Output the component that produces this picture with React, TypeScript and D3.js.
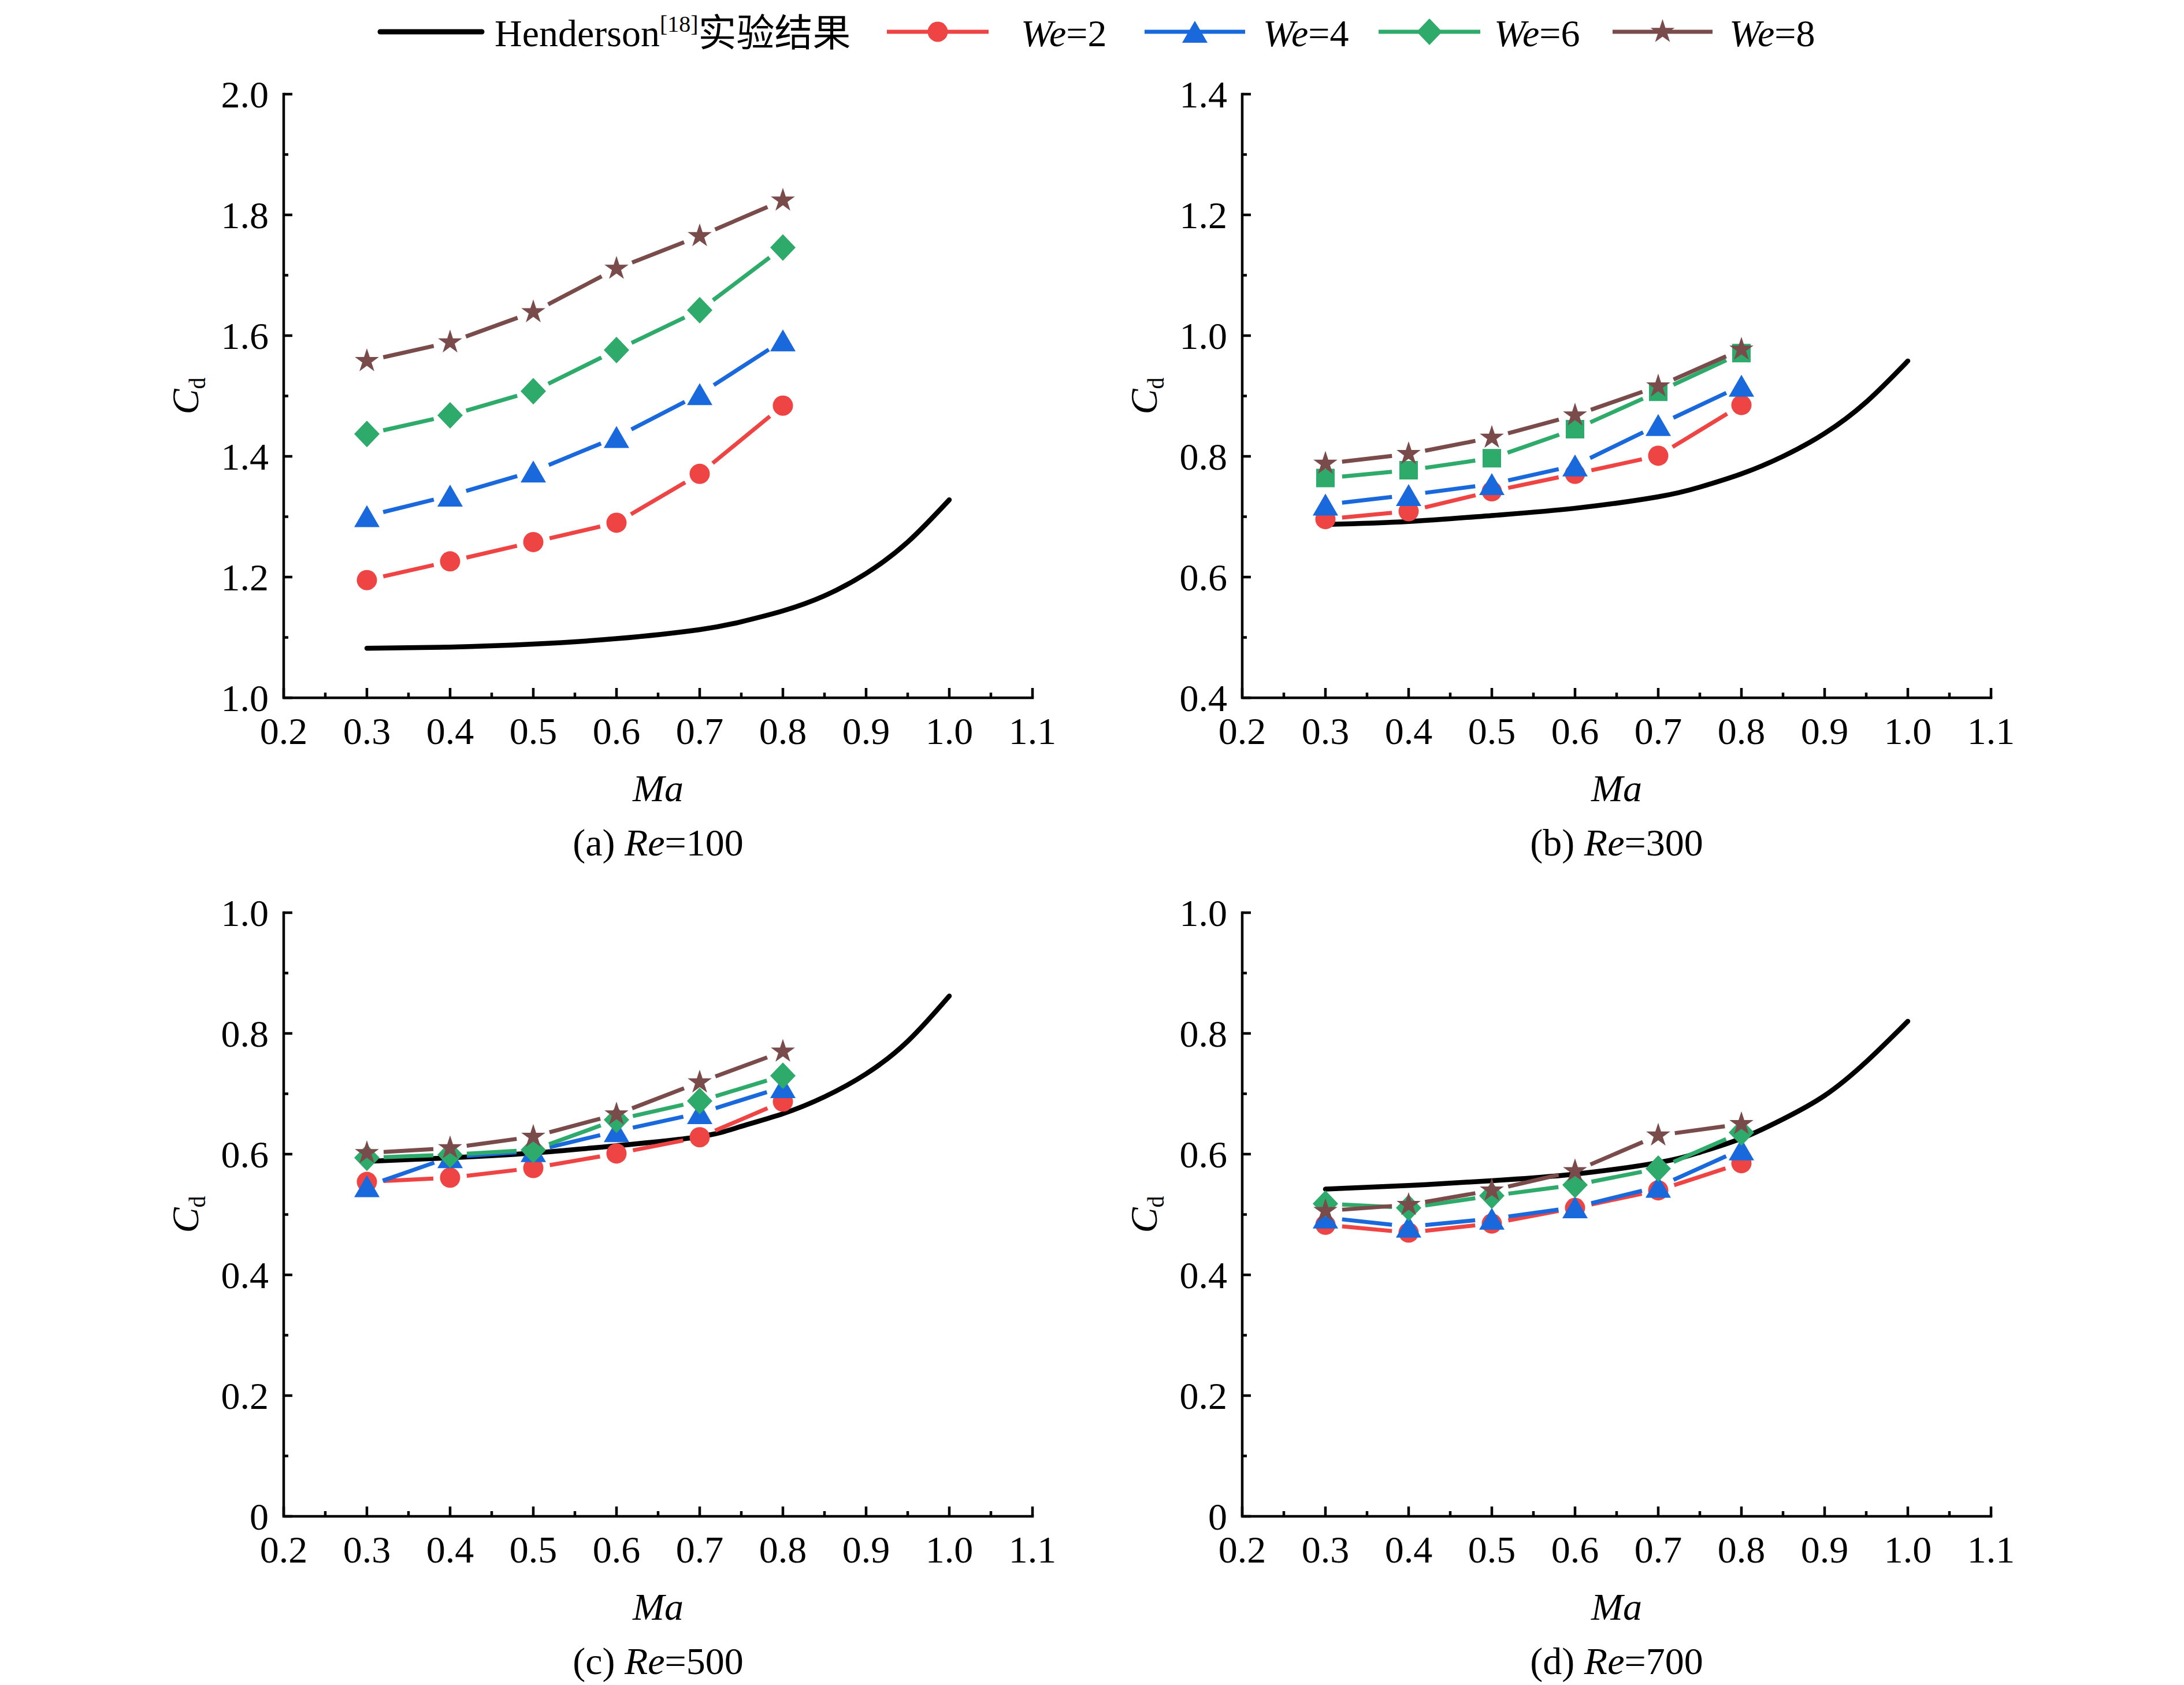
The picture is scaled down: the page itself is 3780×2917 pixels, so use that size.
import * as d3 from "d3";

// Ma values shared by all simulated series
const MA = [0.3, 0.4, 0.5, 0.6, 0.7, 0.8];
// Ma values of the Henderson curve
const HEND_MA = [0.3, 0.4, 0.5, 0.6, 0.7, 0.75, 0.8, 0.85, 0.9, 0.95, 1.0];

// (a) Re=100
const hendA = [1.082, 1.084, 1.089, 1.098, 1.113, 1.126, 1.144, 1.169, 1.206, 1.258, 1.328];
const a_we2 = [1.195, 1.226, 1.258, 1.29, 1.371, 1.484];
const a_we4 = [1.301, 1.335, 1.375, 1.432, 1.503, 1.592];
const a_we6 = [1.437, 1.468, 1.508, 1.576, 1.642, 1.746];
const a_we8 = [1.558, 1.589, 1.639, 1.711, 1.765, 1.824];

// (b) Re=300
const hendB = [0.687, 0.692, 0.702, 0.714, 0.733, 0.749, 0.771, 0.8, 0.838, 0.89, 0.958];
const b_we2 = [0.696, 0.709, 0.742, 0.771, 0.801, 0.885];
const b_we4 = [0.72, 0.736, 0.754, 0.785, 0.852, 0.917];
const b_we6 = [0.764, 0.777, 0.797, 0.845, 0.907, 0.971];
const b_we8 = [0.788, 0.804, 0.831, 0.868, 0.916, 0.977];

// (c) Re=500
const hendC = [0.588, 0.594, 0.602, 0.614, 0.629, 0.646, 0.667, 0.695, 0.733, 0.787, 0.862];
const c_we2 = [0.554, 0.561, 0.577, 0.601, 0.628, 0.687];
const c_we4 = [0.547, 0.595, 0.605, 0.638, 0.668, 0.711];
const c_we6 = [0.594, 0.599, 0.607, 0.657, 0.688, 0.73];
const c_we8 = [0.602, 0.61, 0.629, 0.666, 0.719, 0.77];

// (d) Re=700
const hendD = [0.542, 0.548, 0.556, 0.567, 0.586, 0.603, 0.626, 0.658, 0.697, 0.753, 0.82];
const d_we2 = [0.483, 0.47, 0.485, 0.511, 0.54, 0.585];
const d_we4 = [0.495, 0.48, 0.493, 0.512, 0.546, 0.608];
const d_we6 = [0.518, 0.511, 0.531, 0.549, 0.576, 0.636];
const d_we8 = [0.506, 0.516, 0.54, 0.572, 0.631, 0.65];

const WE_LABELS = ["2", "4", "6", "8"];
const COLORS = ["#EF4444", "#1A69DC", "#2EAA6A", "#7A4B4B"];
const SHAPES = ["circle", "triangle", "diamond", "star"];

const FONT = "'Liberation Serif', 'Times New Roman', 'Noto Sans CJK SC', serif";
const FS = 66;

const PW = 1296;
const PH = 1045;

function markerPath(shape: string) {
  if (shape === "circle") return d3.symbol(d3.symbolCircle, Math.PI * 17.5 * 17.5)()!;
  if (shape === "square") return d3.symbol(d3.symbolSquare, 32 * 32)()!;
  if (shape === "star") return d3.symbol(d3.symbolStar, 540)()!;
  if (shape === "triangle") {
    const s = 44, h = 38;
    return `M0,${-h / 2}L${s / 2},${h / 2}L${-s / 2},${h / 2}Z`;
  }
  // diamond
  return "M0,-23L22,0L0,23L-22,0Z";
}

type PanelProps = {
  left: number;
  top: number;
  tag: string;
  re: string;
  yMin: number;
  hend: number[];
  series: number[][];
  greenShape: string;
};

function Panel({ left, top, tag, re, yMin, hend, series, greenShape }: PanelProps) {
  const sx = d3.scaleLinear().domain([0.2, 1.1]).range([0, PW]);
  const sy = d3.scaleLinear().domain([yMin, yMin + 1]).range([PH, 0]);
  const xMajor = d3.range(2, 12).map((i) => i / 10);
  const xMinor = d3.range(2, 11).map((i) => i / 10 + 0.05);
  const yMajor = d3.range(0, 6).map((i) => +(yMin + i * 0.2).toFixed(2));
  const yMinor = d3.range(0, 5).map((i) => yMin + 0.1 + i * 0.2);

  const hendLine = d3
    .line<number>()
    .x((_, i) => sx(HEND_MA[i]))
    .y((d) => sy(d))
    .curve(d3.curveNatural);

  const gap = 29;
  const fmt = (v: number) => (v === 0 ? "0" : v.toFixed(1));

  return (
    <g transform={`translate(${left},${top})`}>
      <path d={hendLine(hend)!} fill="none" stroke="#000" strokeWidth={8.5} strokeLinecap="round" />
      {series.map((vals, si) => {
        const pts = vals.map((v, i) => [sx(MA[i]), sy(v)]);
        const shape = si === 2 ? greenShape : SHAPES[si];
        return (
          <g key={si}>
            {pts.slice(1).map((q, i) => {
              const p = pts[i];
              const dx = q[0] - p[0], dy = q[1] - p[1];
              const len = Math.hypot(dx, dy);
              if (len <= 2 * gap) return null;
              const ux = dx / len, uy = dy / len;
              return (
                <line
                  key={i}
                  x1={p[0] + ux * gap}
                  y1={p[1] + uy * gap}
                  x2={q[0] - ux * gap}
                  y2={q[1] - uy * gap}
                  stroke={COLORS[si]}
                  strokeWidth={7}
                />
              );
            })}
            {pts.map((p, i) => (
              <path key={i} d={markerPath(shape)} transform={`translate(${p[0]},${p[1]})`} fill={COLORS[si]} />
            ))}
          </g>
        );
      })}
      {/* axes */}
      <path d={`M0,0V${PH}H${PW}`} fill="none" stroke="#000" strokeWidth={4.5} strokeLinecap="square" />
      {xMajor.map((v) => (
        <line key={`xM${v}`} x1={sx(v)} x2={sx(v)} y1={PH} y2={PH - 17} stroke="#000" strokeWidth={4.5} />
      ))}
      {xMinor.map((v) => (
        <line key={`xm${v}`} x1={sx(v)} x2={sx(v)} y1={PH} y2={PH - 9} stroke="#000" strokeWidth={4.5} />
      ))}
      {yMajor.map((v) => (
        <line key={`yM${v}`} x1={0} x2={15} y1={sy(v)} y2={sy(v)} stroke="#000" strokeWidth={4.5} />
      ))}
      {yMinor.map((v) => (
        <line key={`ym${v}`} x1={0} x2={8} y1={sy(v)} y2={sy(v)} stroke="#000" strokeWidth={4.5} />
      ))}
      <g fontFamily={FONT} fontSize={FS} fill="#000">
        {xMajor.map((v) => (
          <text key={`xl${v}`} x={sx(v)} y={PH + 80} textAnchor="middle">
            {v.toFixed(1)}
          </text>
        ))}
        {yMajor.map((v) => (
          <text key={`yl${v}`} x={-26} y={sy(v) + 23} textAnchor="end">
            {fmt(v)}
          </text>
        ))}
        <text x={PW / 2} y={PH + 179} textAnchor="middle" fontStyle="italic">
          Ma
        </text>
        <text x={PW / 2} y={PH + 273} textAnchor="middle">
          ({tag}) <tspan fontStyle="italic">Re</tspan>={re}
        </text>
        <text transform={`translate(-148,${PH / 2}) rotate(-90)`} textAnchor="middle">
          <tspan fontStyle="italic">C</tspan>
          <tspan fontSize={40} dy={12}>d</tspan>
        </text>
      </g>
    </g>
  );
}

const LEGEND_ITEMS = [
  { x0: 1535, x1: 1711, tx: 1767 },
  { x0: 1981, x1: 2155, tx: 2186 },
  { x0: 2386, x1: 2562, tx: 2586 },
  { x0: 2791, x1: 2964, tx: 2993 },
];

export default function App() {
  return (
    <svg
      width={3780}
      height={2917}
      viewBox="0 0 3780 2917"
      style={{ position: "absolute", left: 0, top: 0, background: "#fff" }}
    >
      <rect width={3780} height={2917} fill="#fff" />
      {/* legend */}
      <g fontFamily={FONT} fontSize={FS}>
        <line x1={658} x2={834} y1={55} y2={55} stroke="#000" strokeWidth={9} strokeLinecap="round" />
        <text x={856} y={80}>
          Henderson
          <tspan fontSize={40} dy={-25}>[18]</tspan>
          <tspan dy={25} fontFamily="'Noto Sans CJK SC', sans-serif">实验结果</tspan>
        </text>
        {LEGEND_ITEMS.map((it, i) => (
          <g key={i}>
            <line x1={it.x0} x2={it.x1} y1={55} y2={55} stroke={COLORS[i]} strokeWidth={7} />
            <path d={markerPath(SHAPES[i])} transform={`translate(${(it.x0 + it.x1) / 2},55)`} fill={COLORS[i]} />
            <text x={it.tx} y={80}>
              <tspan fontStyle="italic">We</tspan>={WE_LABELS[i]}
            </text>
          </g>
        ))}
      </g>
      <Panel left={491} top={163} tag="a" re="100" yMin={1.0} hend={hendA} series={[a_we2, a_we4, a_we6, a_we8]} greenShape="diamond" />
      <Panel left={2150} top={163} tag="b" re="300" yMin={0.4} hend={hendB} series={[b_we2, b_we4, b_we6, b_we8]} greenShape="square" />
      <Panel left={491} top={1580} tag="c" re="500" yMin={0} hend={hendC} series={[c_we2, c_we4, c_we6, c_we8]} greenShape="diamond" />
      <Panel left={2150} top={1580} tag="d" re="700" yMin={0} hend={hendD} series={[d_we2, d_we4, d_we6, d_we8]} greenShape="diamond" />
    </svg>
  );
}
